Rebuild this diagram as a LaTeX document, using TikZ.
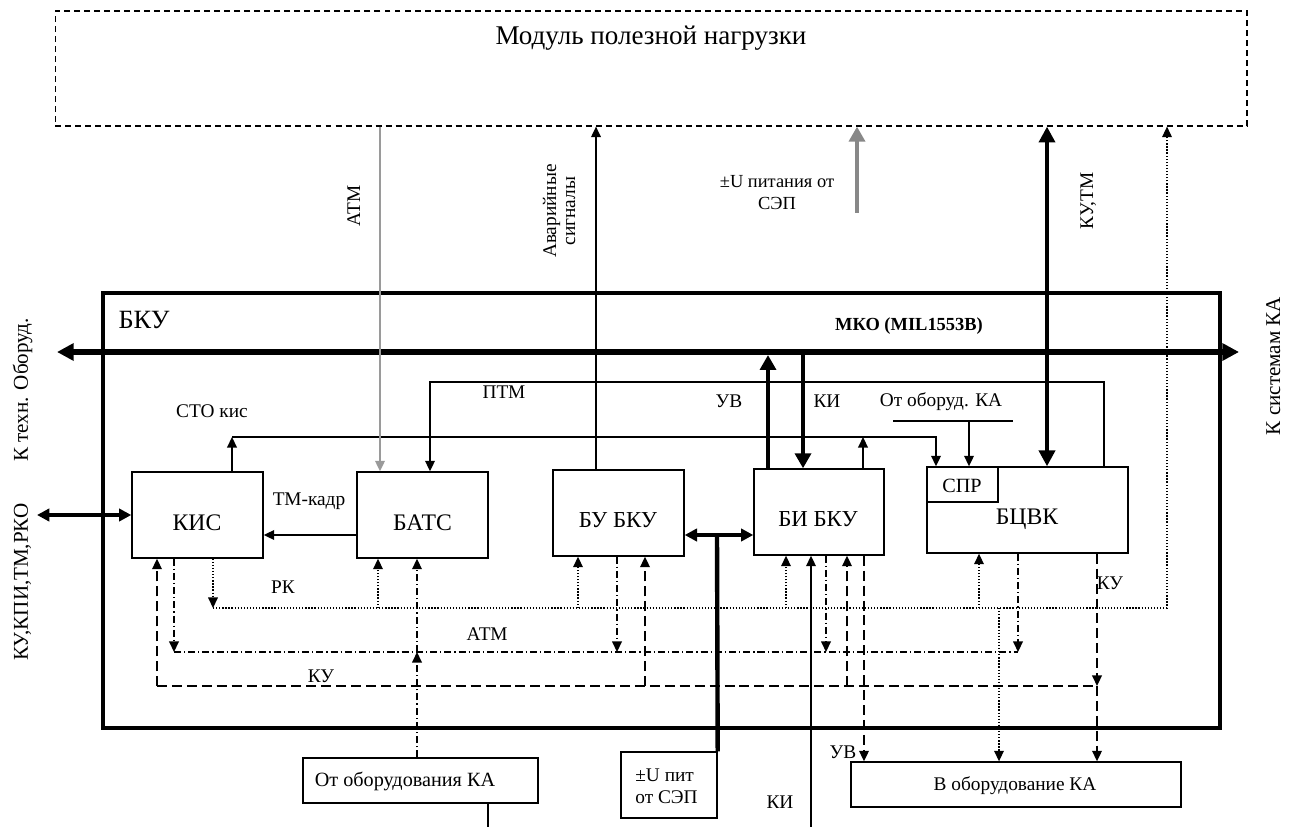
\documentclass[tikz,border=0pt]{standalone}
\usepackage{fontspec}
\setmainfont{Liberation Serif}
\usetikzlibrary{arrows.meta}
\definecolor{lgray}{HTML}{9A9A9A}
\definecolor{mgray}{HTML}{888888}
\begin{document}
\begin{tikzpicture}[x=0.02cm,y=-0.02cm,
  >={Triangle[length=6pt,width=5.5pt]},
  blk/.style={draw, line width=0.8pt, inner sep=0pt},
  blktxt/.style={font=\fontsize{13.5}{16}\selectfont, inner sep=0pt, anchor=base},
  blktxs/.style={font=\fontsize{13}{15}\selectfont, inner sep=0pt, anchor=base},
  lbl/.style={font=\fontsize{11}{13}\selectfont, inner sep=0pt},
  lblb/.style={font=\fontsize{11.5}{13}\selectfont, inner sep=0pt},
  side/.style={font=\fontsize{12}{14}\selectfont, inner sep=0pt, rotate=90, anchor=base},
  ttl/.style={font=\fontsize{15.4}{18}\selectfont, inner sep=0pt, anchor=base},
  bkul/.style={font=\fontsize{15}{18}\selectfont, inner sep=0pt, anchor=base},
  conn/.style={line width=0.9pt},
  kud/.style={line width=0.9pt, dash pattern=on 5.7pt off 2.8pt},
  atmd/.style={line width=0.8pt, dash pattern=on 4pt off 1.7pt on 0.7pt off 1.7pt},
  rkd/.style={line width=0.75pt, dash pattern=on 0.75pt off 1pt},
  bustip/.style={{Triangle[length=9.5pt,width=9.5pt]}-{Triangle[length=9.5pt,width=9.5pt]}},
  hvtip/.style={-{Triangle[length=8.5pt,width=9pt]}},
  hvvtip/.style={{Triangle[length=9pt,width=9pt]}-{Triangle[length=9pt,width=9pt]}},
  mdtip/.style={{Triangle[length=7pt,width=7pt]}-{Triangle[length=7pt,width=7pt]}}
]
\useasboundingbox (0,0) rectangle (1293,827);

% payload module
\node[draw, line width=0.7pt, dash pattern=on 3.4pt off 2.3pt, minimum width=23.84cm, minimum height=2.3cm, inner sep=0pt] (pn) at (651,68.5) {};
\node[ttl] (pnt) at (651,45) {Модуль полезной нагрузки};

% BKU frame
\node[draw, line width=1.9pt, minimum width=22.34cm, minimum height=8.7cm, inner sep=0pt] (bku) at (661.5,510.5) {};
\node[bkul] (bkut) at (144,328) {БКУ};

% bus
\coordinate (busL) at (57,352);
\coordinate (busR) at (1239,352);
\draw[line width=3.4pt, bustip] (busL) -- (busR);
\node[font=\bfseries\fontsize{10.5}{12}\selectfont, inner sep=0pt, anchor=base] (mko) at (909,330) {МКО (MIL1553B)};

% side labels
\node[side] (ktech) at (28,390) {К техн. Оборуд.};
\node[side] (ksys) at (1280,366) {К системам КА};
\node[side] (kuk) at (28,582) {КУ,КПИ,ТМ,РКО};

% blocks
\node[blk, minimum width=2.62cm, minimum height=1.72cm] (kis) at (197.5,515) {};
\node[blk, minimum width=2.62cm, minimum height=1.72cm] (bats) at (422.5,515) {};
\node[blk, minimum width=2.62cm, minimum height=1.72cm] (bu) at (618.5,513) {};
\node[blk, minimum width=2.6cm, minimum height=1.72cm] (bi) at (819,512) {};
\node[blk, minimum width=4.02cm, minimum height=1.72cm] (bcvk) at (1027.5,510) {};
\node[blk, anchor=north west, minimum width=1.42cm, minimum height=0.7cm] (spr) at (bcvk.north west) {};
\node[blk, minimum width=4.7cm, minimum height=0.9cm] (oto) at (420.5,780.5) {};
\node[blk, minimum width=1.92cm, minimum height=1.32cm] (pit) at (669,785) {};
\node[blk, minimum width=6.6cm, minimum height=0.9cm] (vob) at (1016,784.5) {};

\node[blktxt] (kist) at (197,530) {КИС};
\node[blktxt] (batst) at (422.5,530) {БАТС};
\node[blktxs] (but) at (618,527) {БУ БКУ};
\node[blktxs] (bit) at (818,526) {БИ БКУ};
\node[blktxt] (bcvkt) at (1027,524) {БЦВК};
\node[lblb, anchor=base] (sprt) at (962,492) {СПР};
\node[lblb, anchor=base] (otot) at (405,786) {От оборудования КА};
\node[lbl, anchor=base] (vobt) at (1015,790) {В оборудование КА};
\node[lbl, anchor=base west] (pit1) at (635,781) {±U пит};
\node[lbl, anchor=base west] (pit2) at (635,803) {от СЭП};

% KIS external link
\coordinate (kisx) at (37,515);
\draw[line width=2.3pt, mdtip] (kisx) -- (kis.west);

% TM frame
\coordinate (tmk) at (0,535);
\draw[conn,->] (bats.west |- tmk) -- (kis.east |- tmk);
\node[lbl, anchor=base] (tmkt) at (309,505) {ТМ-кадр};

% STO kis
\coordinate (stoA) at (232,437);
\coordinate (stoB) at (936,437);
\coordinate (stoC) at (863,437);
\draw[conn,->] (kis.north -| stoA) -- (stoA);
\draw[conn,->] (stoA) -- (stoB) -- (spr.north -| stoB);
\draw[conn,->] (bi.north -| stoC) -- (stoC);
\node[lbl, anchor=base] (stot) at (212,417) {СТО кис};

% From equipment KA (top)
\coordinate (ooL) at (893,421);
\coordinate (ooR) at (1013,421);
\coordinate (ooM) at (969,421);
\draw[conn] (ooL) -- (ooR);
\draw[conn,->] (ooM) -- (spr.north -| ooM);
\node[lbl, anchor=base] (ooT) at (941,406) {От оборуд. КА};

% PTM
\coordinate (ptmR) at (1104,382);
\coordinate (ptmL) at (430,382);
\draw[conn,->] (bcvk.north -| ptmR) -- (ptmR) -- (ptmL) -- (bats.north -| ptmL);
\node[lbl, anchor=base] (ptmt) at (504,398) {ПТМ};

% UV / KI thick
\coordinate (uvB) at (768,355);
\coordinate (kiB) at (803,352);
\draw[line width=2.8pt, hvtip] (bi.north -| uvB) -- (uvB);
\draw[line width=2.8pt, hvtip] (kiB) -- (bi.north -| kiB);
\node[lbl, anchor=base] (uvt) at (729,407) {УВ};
\node[lbl, anchor=base] (kit) at (827,407) {КИ};

% ATM gray from payload
\coordinate (atmX) at (380,0);
\draw[line width=1pt, lgray, -{Triangle[length=6pt,width=5.5pt]}] (pn.south -| atmX) -- (bats.north -| atmX);
\node[lbl, rotate=90, anchor=base] (atmt) at (360,206) {АТМ};

% emergency signals
\coordinate (avX) at (596,0);
\draw[conn,->] (bu.north -| avX) -- (pn.south -| avX);
\node[lbl, rotate=90, anchor=base] (av1) at (556,211) {Аварийные};
\node[lbl, rotate=90, anchor=base] (av2) at (575,211) {сигналы};

% power to payload
\coordinate (puB) at (857,213);
\draw[line width=2.6pt, mgray, -{Triangle[length=8.5pt,width=9pt]}] (puB) -- (pn.south -| puB);
\node[font=\fontsize{10.5}{12}\selectfont, inner sep=0pt, anchor=base] (pu1) at (777,188) {±U питания от};
\node[font=\fontsize{10.5}{12}\selectfont, inner sep=0pt, anchor=base] (pu2) at (777,210) {СЭП};

% KU,TM
\coordinate (kutX) at (1047,0);
\draw[line width=2.8pt, hvvtip] (pn.south -| kutX) -- (bcvk.north -| kutX);
\node[lbl, rotate=90, anchor=base] (kutt) at (1093,201) {КУ,ТМ};

% RK dotted
\coordinate (rkA) at (213,608);
\coordinate (rkB) at (1167,608);
\draw[rkd,->] (kis.south -| rkA) -- (rkA);
\draw[rkd,->] (rkA) -- (rkB) -- (pn.south -| rkB);
\coordinate (rk1) at (378,608);
\coordinate (rk2) at (578,608);
\coordinate (rk3) at (786,608);
\coordinate (rk4) at (979,608);
\coordinate (rk5) at (999,608);
\draw[rkd,->] (rk1) -- (bats.south -| rk1);
\draw[rkd,->] (rk2) -- (bu.south -| rk2);
\draw[rkd,->] (rk3) -- (bi.south -| rk3);
\draw[rkd,->] (rk4) -- (bcvk.south -| rk4);
\draw[rkd,->] (rk5) -- (vob.north -| rk5);
\node[lbl, anchor=base] (rkt) at (283,593) {РК};

% ATM dash-dot
\coordinate (amA) at (174,652);
\coordinate (amB) at (1018,652);
\coordinate (am1) at (617,652);
\coordinate (am2) at (826,652);
\coordinate (am3) at (417,652);
\draw[atmd,->] (kis.south -| amA) -- (amA);
\draw[atmd] (amA) -- (amB);
\draw[atmd,->] (bcvk.south -| amB) -- (amB);
\draw[atmd,->] (bu.south -| am1) -- (am1);
\draw[atmd,->] (bi.south -| am2) -- (am2);
\draw[atmd,->] (oto.north -| am3) -- (am3);
\draw[atmd,->] (am3) -- (bats.south -| am3);
\node[lbl, anchor=base] (atmt2) at (487,640) {АТМ};

% KU dashed
\coordinate (kuA) at (157,686);
\coordinate (kuB) at (1097,686);
\coordinate (ku1) at (645,686);
\coordinate (ku2) at (847,686);
\draw[kud,->] (kuA) -- (kis.south -| kuA);
\draw[kud] (kuA) -- (kuB);
\draw[kud,->] (ku1) -- (bu.south -| ku1);
\draw[kud,->] (ku2) -- (bi.south -| ku2);
\draw[kud,->] (bcvk.south -| kuB) -- (kuB);
\draw[kud,->] (kuB) -- (vob.north -| kuB);
\node[lbl, anchor=base] (kut1) at (321,682) {КУ};
\node[lbl, anchor=base] (kut2) at (1110,589) {КУ};

% UV dashed to equipment
\coordinate (uvX) at (864,0);
\draw[kud,->] (bi.south -| uvX) -- (vob.north -| uvX);
\node[lbl, anchor=base] (uvt2) at (843,758) {УВ};

% KI solid from below
\coordinate (kiBot) at (811,827);
\draw[conn,->] (kiBot) -- (bi.south -| kiBot);
\node[lbl, anchor=base] (kit2) at (780,808) {КИ};

% power BU-BI
\coordinate (pw) at (717,535);
\draw[line width=2.6pt, mdtip] (bu.east |- pw) -- (bi.west |- pw);
\draw[line width=2.5pt] (pw) -- (pit.north east);

% from equipment box line down
\coordinate (otoX) at (488,827);
\draw[conn] (oto.south -| otoX) -- (otoX);

\end{tikzpicture}
\end{document}
